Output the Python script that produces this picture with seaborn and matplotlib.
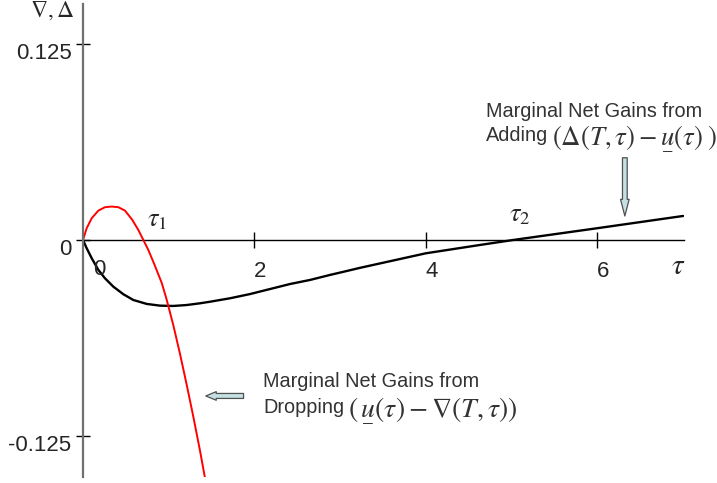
import numpy as np
import pandas as pd
import seaborn as sns
import matplotlib
matplotlib.use("Agg")
import matplotlib.pyplot as plt
from matplotlib.patches import FancyArrowPatch
from matplotlib.transforms import ScaledTranslation

# Marginal net gains from adding: Delta(T, tau) - u(tau)
tau_add = [0, 0.043, 0.102, 0.179, 0.257, 0.354, 0.47, 0.587, 0.743, 0.898,
           1.054, 1.21, 1.365, 1.482, 1.715, 1.949, 2.182, 2.415, 2.649,
           2.882, 3.077, 3.23, 4.0, 4.63, 5.02, 6.0, 7.0]
gain_add = [0, -0.0053, -0.0117, -0.0191, -0.0245, -0.0298, -0.0346, -0.0383,
            -0.0408, -0.0419, -0.0421, -0.0415, -0.0404, -0.0394, -0.0372,
            -0.0345, -0.0313, -0.0281, -0.0255, -0.0223, -0.0198, -0.0178,
            -0.0085, -0.0032, 0.0, 0.0075, 0.0153]

# Marginal net gains from dropping: u(tau) - Nabla(T, tau)
tau_drop = [0, 0.043, 0.102, 0.179, 0.257, 0.335, 0.412, 0.49, 0.575, 0.645,
            0.704, 0.762, 0.828, 0.919, 0.977, 1.054, 1.132, 1.21, 1.287,
            1.365, 1.42]
gain_drop = [0, 0.0075, 0.0139, 0.0187, 0.0209, 0.0213, 0.0209, 0.0187,
             0.0128, 0.0064, 0, -0.0064, -0.015, -0.0275, -0.0383, -0.0545,
             -0.0728, -0.0925, -0.1128, -0.1345, -0.151]

x_ticks = [2, 4, 6]
x_tick_labels = ["2", "4", "6"]
y_ticks = [-0.125, 0, 0.125]
y_tick_labels = ["-0.125", "0", "0.125"]

add_df = pd.DataFrame({"tau": tau_add, "gain": gain_add})
drop_df = pd.DataFrame({"tau": tau_drop, "gain": gain_drop})

sns.set_theme(style="white")
plt.rcParams["font.family"] = ["Liberation Sans", "DejaVu Sans"]
plt.rcParams["mathtext.fontset"] = "stix"

fig = plt.figure(figsize=(7.17, 4.83), dpi=100)
ax = fig.add_axes([83 / 717, 6 / 483, 601 / 717, 473 / 483])
ax.set_xlim(0, 7.01)
ax.set_ylim(-0.1512, 0.1505)

sns.lineplot(data=add_df, x="tau", y="gain", sort=False, color="black",
             lw=1.7, ax=ax)
sns.lineplot(data=drop_df, x="tau", y="gain", sort=False, color="#ff0000",
             lw=1.4, ax=ax)
ax.set_xlabel("")
ax.set_ylabel("")

# crossing axes
for side in ("top", "right"):
    ax.spines[side].set_visible(False)
ax.spines["bottom"].set_position(("data", 0))
ax.spines["bottom"].set_color("black")
ax.spines["bottom"].set_linewidth(1.0)
ax.spines["left"].set_color("#707070")
ax.spines["left"].set_linewidth(1.6)
ax.spines["bottom"].set_zorder(1)

ax.set_xticks(x_ticks)
ax.set_xticklabels(x_tick_labels)
ax.set_yticks(y_ticks)
ax.set_yticklabels(y_tick_labels)
ax.tick_params(axis="x", direction="inout", length=11, width=1.0,
               color="black", labelsize=16, pad=10, bottom=True)
ax.tick_params(axis="y", direction="inout", length=9.5, width=1.0,
               color="black", labelsize=16, pad=3.5, left=True)
for lab in ax.get_xticklabels():
    lab.set_transform(lab.get_transform() +
                      ScaledTranslation(6 / 100, 0, fig.dpi_scale_trans))
for lab in ax.get_yticklabels():
    lab.set_transform(lab.get_transform() +
                      ScaledTranslation(0, -7 / 100, fig.dpi_scale_trans))

# the "0" under the origin
ax.annotate("0", xy=(0, 0), xytext=(16, -30), textcoords="offset pixels",
            ha="center", va="center", fontsize=16, annotation_clip=False)

# axis names
ax.text(-0.36, 0.1462, r"$\nabla,\Delta$", fontsize=17, ha="center",
        va="center", clip_on=False)
ax.text(6.94, -0.0166, r"$\tau$", fontsize=21, ha="center", va="center")
ax.text(0.87, 0.0128, r"$\tau_1$", fontsize=19, ha="center", va="center")
ax.text(5.1, 0.016, r"$\tau_2$", fontsize=19, ha="center", va="center")

# annotations
u_low = r"\underset{\_}{u}"
txt_color = "#333333"
ax.text(4.70, 0.0787, "Marginal Net Gains from", fontsize=14.3,
        color=txt_color, ha="left", va="baseline")
adding = ax.text(4.70, 0.0630, "Adding", fontsize=14.3, color=txt_color,
                 ha="left", va="baseline")
ax.annotate(r"$(\Delta(T,\tau)-" + u_low + r"(\tau)\;)$",
            xy=(1, 0), xycoords=adding, xytext=(4, 0),
            textcoords="offset pixels", fontsize=19.3, color=txt_color,
            ha="left", va="baseline", annotation_clip=False)
ax.text(2.10, -0.0936, "Marginal Net Gains from", fontsize=14.3,
        color=txt_color, ha="left", va="baseline")
dropping = ax.text(2.10, -0.1106, "Dropping", fontsize=14.3, color=txt_color,
                   ha="left", va="baseline")
ax.annotate(r"$(\," + u_low + r"(\tau)-\nabla(T,\tau))$",
            xy=(1, 0), xycoords=dropping, xytext=(4, 0),
            textcoords="offset pixels", fontsize=20, color=txt_color,
            ha="left", va="baseline", annotation_clip=False)

down_kw = dict(arrowstyle="simple,head_length=1.2,head_width=0.62,tail_width=0.34",
               mutation_scale=10, facecolor="#c4e0e2", edgecolor="#505050",
               lw=0.9)
left_kw = dict(arrowstyle="simple,head_length=0.75,head_width=0.62,tail_width=0.36",
               mutation_scale=10, facecolor="#c4e0e2", edgecolor="#505050",
               lw=0.9)
ax.add_patch(FancyArrowPatch((6.32, 0.0542), (6.32, 0.0135), **down_kw))
ax.add_patch(FancyArrowPatch((1.905, -0.0995), (1.40, -0.0995), **left_kw))

fig.savefig("out.png", dpi=100)
